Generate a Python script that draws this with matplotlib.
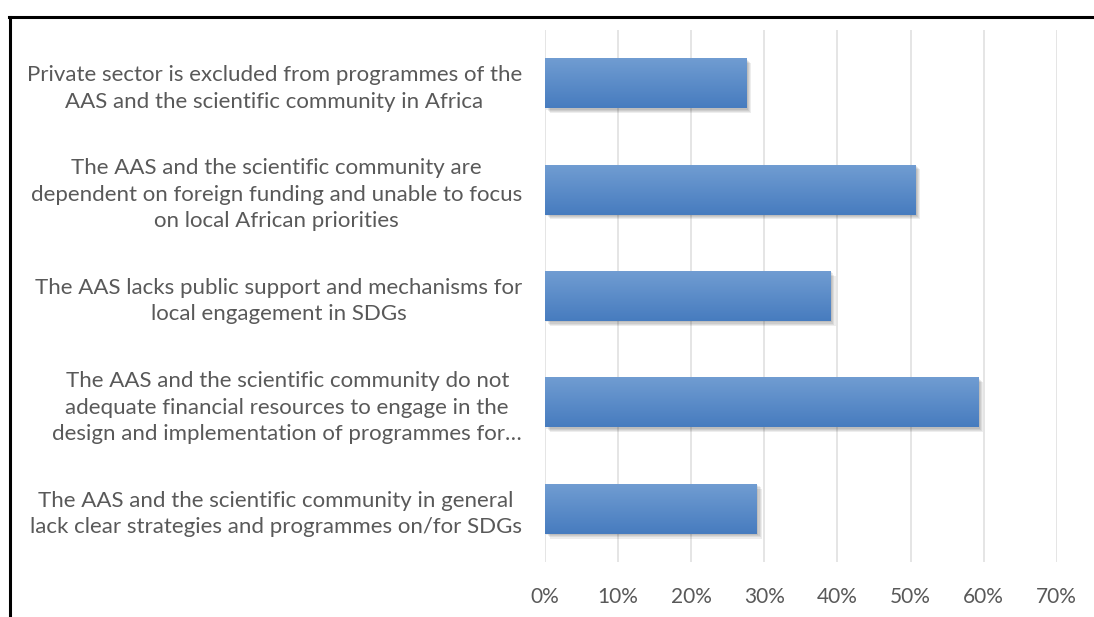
import matplotlib
matplotlib.use("Agg")
import matplotlib.pyplot as plt
import matplotlib.patheffects as pe
import numpy as np
from matplotlib.lines import Line2D
from matplotlib.ticker import PercentFormatter

CATEGORIES = [
    "Private sector is excluded from programmes of the\nAAS and the scientific community in Africa",
    "The AAS and the scientific community are\ndependent on foreign funding and unable to focus\non local African priorities",
    "The AAS lacks public support and mechanisms for\nlocal engagement in SDGs",
    "The AAS and the scientific community do not\nadequate financial resources to engage in the\ndesign and implementation of programmes for\u2026",
    "The AAS and the scientific community in general\nlack clear strategies and programmes on/for SDGs",
]
SHARES = [0.276, 0.507, 0.391, 0.593, 0.290]
X_TICKS = [0.0, 0.1, 0.2, 0.3, 0.4, 0.5, 0.6, 0.7]

TEXT_COLOR = "#595959"
GRID_COLOR = "#dedede"
BAR_TOP = np.array([0x71, 0x9d, 0xd2]) / 255
BAR_BOTTOM = np.array([0x47, 0x7c, 0xbf]) / 255

plt.rcParams["font.family"] = ["Lato", "DejaVu Sans"]

fig = plt.figure(figsize=(10.94, 6.17), dpi=100)
ax = fig.add_axes([0.4982, 0.0891, 0.4677, 0.8623])

# soft drop shadow, built from a few faint offset copies
shadow = [pe.SimplePatchShadow(offset=(d, -d), shadow_rgbFace="#000000", alpha=0.07)
          for d in (1.0, 1.8, 2.6, 3.4)]

y = np.arange(len(CATEGORIES))
bars = ax.barh(y, SHARES, height=0.47, color=BAR_BOTTOM, zorder=3,
               path_effects=shadow + [pe.Normal()])

# vertical gradient on each bar
grad = np.linspace(0, 1, 64)[:, None, None]
img = BAR_TOP * (1 - grad) + BAR_BOTTOM * grad
for bar in bars:
    x0, y0 = bar.get_x(), bar.get_y()
    w, h = bar.get_width(), bar.get_height()
    im = ax.imshow(img, extent=(x0, x0 + w, y0 + h, y0), aspect="auto",
                   zorder=4, interpolation="bilinear", origin="upper")
    im.set_clip_path(bar)

ax.set_xlim(0, 0.7)
ax.set_ylim(len(CATEGORIES) - 0.5, -0.5)
ax.set_xticks(X_TICKS)
ax.xaxis.set_major_formatter(PercentFormatter(1.0, decimals=0))
ax.set_yticks(y)
ax.set_yticklabels(CATEGORIES, ha="right", multialignment="center", linespacing=1.4)

ax.grid(axis="x", color=GRID_COLOR, linewidth=1.1, zorder=0)
ax.set_axisbelow(True)
for s in ax.spines.values():
    s.set_visible(False)
ax.tick_params(axis="both", length=0, colors=TEXT_COLOR)
ax.tick_params(axis="y", pad=16.5, labelsize=16)
ax.tick_params(axis="x", pad=18, labelsize=15)

# outer frame (top and left edges)
fig.add_artist(Line2D([0.008, 1.0], [0.972, 0.972], color="black", linewidth=2.2,
                      transform=fig.transFigure))
fig.add_artist(Line2D([0.009, 0.009], [0.972, 0.0], color="black", linewidth=2.2,
                      transform=fig.transFigure))

fig.savefig("out.png", dpi=100)
